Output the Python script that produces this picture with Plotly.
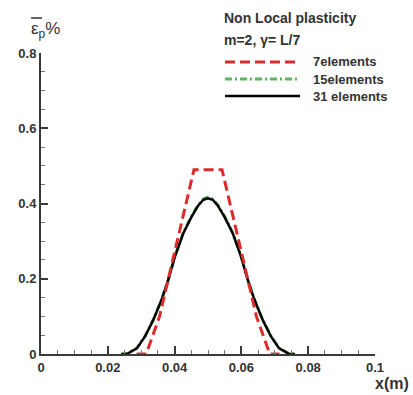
import plotly.graph_objects as go

# ---- data ----
x_7 = [0.0286, 0.0315, 0.0355, 0.0458, 0.0542, 0.0645, 0.0685, 0.0714]
y_7 = [0.0, 0.0, 0.10, 0.49, 0.49, 0.10, 0.0, 0.0]

x_15 = [0.0240, 0.0255, 0.0287, 0.0311, 0.0336, 0.0361, 0.0381, 0.0401, 0.0426, 0.0451,
        0.0471, 0.0488, 0.0500, 0.0512, 0.0529, 0.0549, 0.0574, 0.0599, 0.0619, 0.0639,
        0.0664, 0.0689, 0.0713, 0.0745, 0.0760]
y_15 = [0.0, 0.0, 0.016, 0.047, 0.091, 0.145, 0.198, 0.260, 0.322, 0.367,
        0.397, 0.413, 0.417, 0.413, 0.397, 0.367, 0.322, 0.260, 0.198, 0.145,
        0.091, 0.047, 0.016, 0.0, 0.0]

x_31 = [0.0240, 0.0257, 0.0287, 0.0311, 0.0336, 0.0361, 0.0381, 0.0401, 0.0426, 0.0451,
        0.0471, 0.0486, 0.0500, 0.0514, 0.0529, 0.0549, 0.0574, 0.0599, 0.0619, 0.0639,
        0.0664, 0.0689, 0.0713, 0.0743, 0.0760]
y_31 = [0.0, 0.0, 0.015, 0.046, 0.090, 0.144, 0.197, 0.259, 0.321, 0.365,
        0.395, 0.410, 0.414, 0.410, 0.395, 0.365, 0.321, 0.259, 0.197, 0.144,
        0.090, 0.046, 0.015, 0.0, 0.0]

x_ticks = [0, 0.02, 0.04, 0.06, 0.08, 0.1]
x_tick_labels = ["0", "0.02", "0.04", "0.06", "0.08", "0.1"]
y_ticks = [0, 0.2, 0.4, 0.6, 0.8]
y_tick_labels = ["0", "0.2", "0.4", "0.6", "0.8"]

series_names = ["7elements", "15elements", "31 elements"]
legend_title = ["Non Local plasticity", "m=2, γ= L/7"]

RED = "#dd2a2a"
GREEN = "#5cb85c"
BLACK = "#000000"
AX = "#3a3a3a"
FONT = "Liberation Sans, Arial, sans-serif"

fig = go.Figure()
fig.add_trace(go.Scatter(x=x_15, y=y_15, mode="lines", name=series_names[1],
                         line=dict(color=GREEN, width=3, dash="7px,3px,2px,3px")))
fig.add_trace(go.Scatter(x=x_31, y=y_31, mode="lines", name=series_names[2],
                         line=dict(color=BLACK, width=2.5)))
fig.add_trace(go.Scatter(x=x_7, y=y_7, mode="lines", name=series_names[0],
                         line=dict(color=RED, width=3, dash="10px,5px")))

L, R, T, B = 41, 38, 53, 41
W, H = 413, 395
pw, ph = W - L - R, H - T - B

def px(xp):
    return (xp - L) / pw

def py(yp):
    return (H - B - yp) / ph

fig.update_layout(
    width=W, height=H,
    margin=dict(l=L, r=R, t=T, b=B),
    paper_bgcolor="white", plot_bgcolor="white",
    showlegend=False,
    font=dict(family=FONT, color="#333333"),
)
fig.update_xaxes(
    range=[0, 0.1], tickvals=x_ticks, ticktext=x_tick_labels,
    showgrid=False, zeroline=False, showline=True, linecolor=AX, linewidth=2,
    ticks="inside", ticklen=8, tickwidth=1.5, tickcolor=AX,
    tickfont=dict(size=13, weight="bold", color="#333333", family=FONT),
    minor=dict(dtick=0.005, ticks="inside", ticklen=4, tickwidth=1, tickcolor="#777777"),
)
fig.update_yaxes(
    range=[0, 0.8], tickvals=y_ticks, ticktext=y_tick_labels,
    showgrid=False, zeroline=False, showline=True, linecolor=AX, linewidth=2,
    ticks="inside", ticklen=7, tickwidth=1.5, tickcolor=AX,
    tickfont=dict(size=13, weight="bold", color="#333333", family=FONT),
    minor=dict(dtick=0.05, ticks="inside", ticklen=4, tickwidth=1, tickcolor="#777777"),
)

# axis titles
fig.add_annotation(xref="paper", yref="paper", x=px(29), y=py(30), xanchor="left", yanchor="middle",
                   text="ε<sub>p</sub>%", showarrow=False,
                   font=dict(size=17, color="#333333", family=FONT))
fig.add_shape(type="line", xref="paper", yref="paper", x0=px(31), x1=px(42), y0=py(18), y1=py(18),
              line=dict(color="#333333", width=1.5))
fig.add_annotation(xref="paper", yref="paper", x=px(411), y=py(383), xanchor="right", yanchor="middle",
                   text="<b>x(m)</b>", showarrow=False,
                   font=dict(size=16, color="#333333", family=FONT))

# legend block
fig.add_annotation(xref="paper", yref="paper", x=px(222), y=py(18), xanchor="left", yanchor="middle",
                   text="<b>" + legend_title[0] + "</b>", showarrow=False,
                   font=dict(size=14, color="#333333", family=FONT))
fig.add_annotation(xref="paper", yref="paper", x=px(222), y=py(40), xanchor="left", yanchor="middle",
                   text="<b>" + legend_title[1] + "</b>", showarrow=False,
                   font=dict(size=14, color="#333333", family=FONT))
leg_styles = [(RED, 3, "10px,5px"), (GREEN, 3, "7px,3px,2px,3px"), (BLACK, 2.5, "solid")]
leg_y = [62, 79, 96]
for name, (c, w, d), yy in zip(series_names, leg_styles, leg_y):
    fig.add_shape(type="line", xref="paper", yref="paper", x0=px(225), x1=px(300), y0=py(yy), y1=py(yy),
                  line=dict(color=c, width=w, dash=d))
    fig.add_annotation(xref="paper", yref="paper", x=px(311), y=py(yy), xanchor="left", yanchor="middle",
                       text="<b>" + name + "</b>", showarrow=False,
                       font=dict(size=13, color="#333333", family=FONT))

fig.write_html("out.html", config={"displayModeBar": False},
               post_script="document.body.style.margin='0';document.body.style.padding='0';")
